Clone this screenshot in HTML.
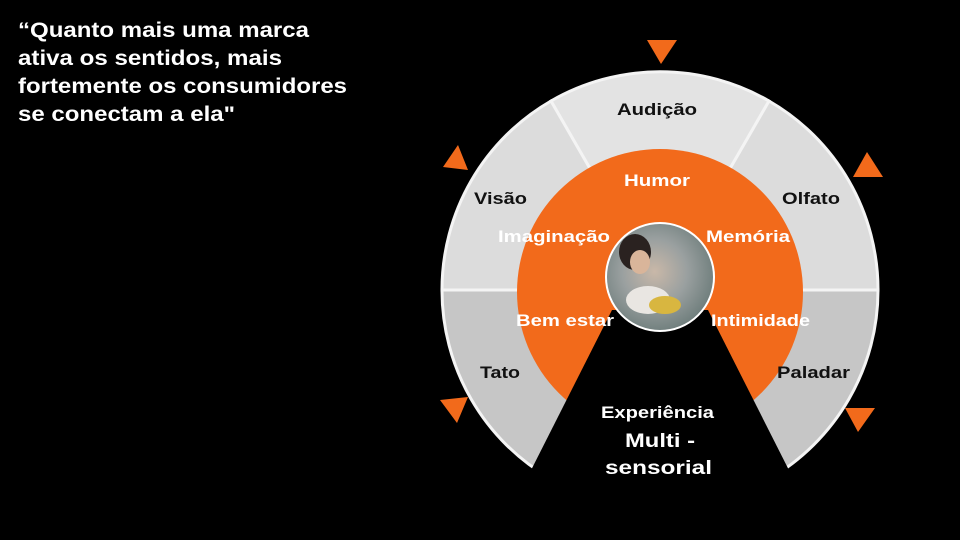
<!DOCTYPE html>
<html><head><meta charset="utf-8"><style>
html,body{margin:0;padding:0;background:#000;}
svg{display:block;}
text{font-family:"Liberation Sans",Arial,sans-serif;font-weight:bold;}
</style></head><body>
<svg width="960" height="540" viewBox="0 0 960 540" xmlns="http://www.w3.org/2000/svg">
<rect width="960" height="540" fill="#000"/>
<g font-size="21" fill="#fff">
<text x="18" y="37" textLength="291" lengthAdjust="spacingAndGlyphs">“Quanto mais uma marca</text>
<text x="18" y="65" textLength="264" lengthAdjust="spacingAndGlyphs">ativa os sentidos, mais</text>
<text x="18" y="93" textLength="329" lengthAdjust="spacingAndGlyphs">fortemente os consumidores</text>
<text x="18" y="121" textLength="217" lengthAdjust="spacingAndGlyphs">se conectam a ela"</text>
</g>
<g stroke="#f4f4f4" stroke-width="3">
<path d="M660,290 L551,101 A218,218 0 0 1 769,101 Z" fill="#e3e3e3"/>
<path d="M660,290 L769,101 A218,218 0 0 1 878,290 Z" fill="#dcdcdc"/>
<path d="M660,290 L442,290 A218,218 0 0 1 551,101 Z" fill="#dcdcdc"/>
<path d="M660,290 L878,290 A218,218 0 0 1 769,479 Z" fill="#c6c6c6"/>
<path d="M660,290 L551,479 A218,218 0 0 1 442,290 Z" fill="#c6c6c6"/>
</g>
<circle cx="660" cy="292" r="143" fill="#f26a1b"/>
<polygon points="612,310 708,310 800,492 520,492" fill="#000"/>
<defs>
<radialGradient id="ph" cx="0.45" cy="0.45" r="0.6">
<stop offset="0" stop-color="#c9b8a8"/>
<stop offset="0.5" stop-color="#9aa0a0"/>
<stop offset="1" stop-color="#6a7a78"/>
</radialGradient>
</defs>
<circle cx="660" cy="277" r="54" fill="url(#ph)" stroke="#fff" stroke-width="2"/>
<ellipse cx="635" cy="252" rx="16" ry="18" fill="#2a2220"/>
<ellipse cx="640" cy="262" rx="10" ry="12" fill="#d9b59a"/>
<ellipse cx="648" cy="300" rx="22" ry="14" fill="#e9e6e2"/>
<ellipse cx="665" cy="305" rx="16" ry="9" fill="#d8b640"/>
<g fill="#f26a1b">
<polygon points="647,40 677,40 661,64"/>
<polygon points="443,167 468,170 458,145"/>
<polygon points="853,177 883,177 867,152"/>
<polygon points="440,400 468,397 457,423"/>
<polygon points="845,408 875,408 858,432"/>
</g>
<g font-size="17" fill="#111" lengthAdjust="spacingAndGlyphs">
<text x="617" y="115" textLength="80" lengthAdjust="spacingAndGlyphs">Audição</text>
<text x="474" y="204" textLength="53" lengthAdjust="spacingAndGlyphs">Visão</text>
<text x="782" y="204" textLength="58" lengthAdjust="spacingAndGlyphs">Olfato</text>
<text x="480" y="378" textLength="40" lengthAdjust="spacingAndGlyphs">Tato</text>
<text x="777" y="378" textLength="73" lengthAdjust="spacingAndGlyphs">Paladar</text>
</g>
<g font-size="17" fill="#fff">
<text x="624" y="186" textLength="66" lengthAdjust="spacingAndGlyphs">Humor</text>
<text x="498" y="242" textLength="112" lengthAdjust="spacingAndGlyphs">Imaginação</text>
<text x="706" y="242" textLength="84" lengthAdjust="spacingAndGlyphs">Memória</text>
<text x="516" y="326" textLength="98" lengthAdjust="spacingAndGlyphs">Bem estar</text>
<text x="711" y="326" textLength="99" lengthAdjust="spacingAndGlyphs">Intimidade</text>
<text x="601" y="418" textLength="113" lengthAdjust="spacingAndGlyphs">Experiência</text>
<text x="625" y="447" font-size="19" textLength="70" lengthAdjust="spacingAndGlyphs">Multi -</text>
<text x="605" y="474" font-size="19" textLength="107" lengthAdjust="spacingAndGlyphs">sensorial</text>
</g>
</svg>
</body></html>
